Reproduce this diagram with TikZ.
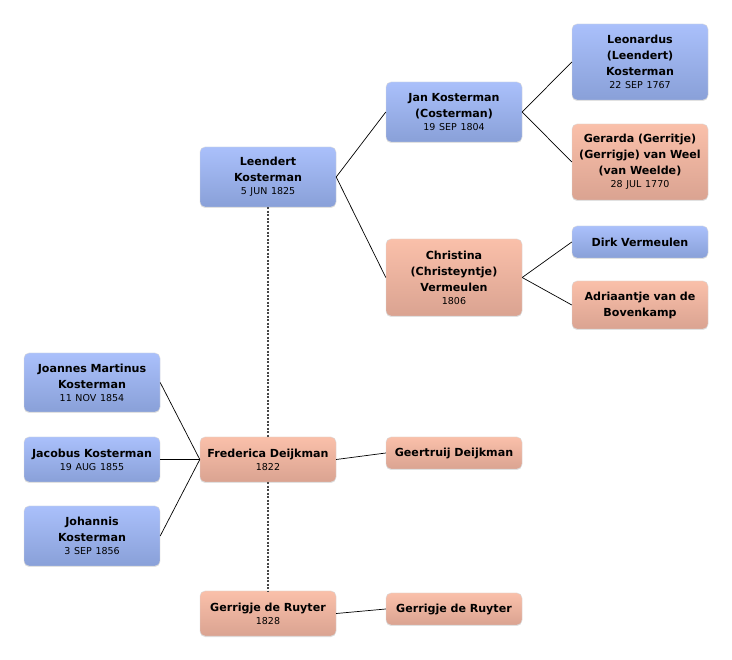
\documentclass[tikz,border=0pt]{standalone}
\usepackage{fontspec}
\setmainfont{DejaVu Sans}
\usetikzlibrary{shadows}
\definecolor{btop}{RGB}{170,192,251}
\definecolor{bbot}{RGB}{137,160,216}
\definecolor{ptop}{RGB}{250,192,170}
\definecolor{pbot}{RGB}{218,163,145}
\definecolor{dotc}{RGB}{70,70,70}
\newcommand{\dt}[1]{\\[-3pt]{\fontsize{9.5}{16}\selectfont\mdseries #1}}
\tikzset{
  person/.style={rounded corners=5pt, minimum width=136pt, text width=134pt,
    align=center, inner sep=0pt, draw=white!85!black, line width=0.4pt,
    font=\fontsize{11.1}{16}\selectfont\bfseries,
    drop shadow={opacity=0.22, shadow xshift=0pt, shadow yshift=-1pt}},
  male/.style={person, top color=btop, bottom color=bbot},
  female/.style={person, top color=ptop, bottom color=pbot},
  link/.style={draw=black, line width=0.7pt},
  spouse/.style={draw=dotc, line width=1.4pt, dash pattern=on 2pt off 1.5pt}
}
\begin{document}
\begin{tikzpicture}[x=1pt,y=-1pt]
\fill[white] (0,0) rectangle (732,660);
\useasboundingbox (0,0) rectangle (732,660);

\node[male, minimum height=60pt] (leendert) at (268,177)
  {Leendert\\Kosterman\dt{5 JUN 1825}};
\node[male, minimum height=60pt] (jan) at (454,112)
  {Jan Kosterman\\(Costerman)\dt{19 SEP 1804}};
\node[female, minimum height=77pt] (christina) at (454,277.5)
  {Christina\\(Christeyntje)\\Vermeulen\dt{1806}};
\node[male, minimum height=76pt] (leonardus) at (640,62)
  {Leonardus\\(Leendert)\\Kosterman\dt{22 SEP 1767}};
\node[female, minimum height=76pt] (gerarda) at (640,162)
  {Gerarda (Gerritje)\\(Gerrigje) van Weel\\(van Weelde)\dt{28 JUL 1770}};
\node[male, minimum height=32pt] (dirk) at (640,242)
  {Dirk Vermeulen};
\node[female, minimum height=48pt] (adriaantje) at (640,305)
  {Adriaantje van de\\Bovenkamp};

\node[male, minimum height=59pt] (joannes) at (92,382.5)
  {Joannes Martinus\\Kosterman\dt{11 NOV 1854}};
\node[male, minimum height=45pt] (jacobus) at (92,459.5)
  {Jacobus Kosterman\dt{19 AUG 1855}};
\node[male, minimum height=60pt] (johannis) at (92,536)
  {Johannis\\Kosterman\dt{3 SEP 1856}};

\node[female, minimum height=45pt] (frederica) at (268,459.5)
  {Frederica Deijkman\dt{1822}};
\node[female, minimum height=32pt] (geertruij) at (454,453)
  {Geertruij Deijkman};
\node[female, minimum height=45pt] (gerrigjeA) at (268,613.5)
  {Gerrigje de Ruyter\dt{1828}};
\node[female, minimum height=32pt] (gerrigjeB) at (454,609)
  {Gerrigje de Ruyter};

\draw[link] (leendert.east) -- (jan.west);
\draw[link] (leendert.east) -- (christina.west);
\draw[link] (jan.east) -- (leonardus.west);
\draw[link] (jan.east) -- (gerarda.west);
\draw[link] (christina.east) -- (dirk.west);
\draw[link] (christina.east) -- (adriaantje.west);
\draw[link] (joannes.east) -- (frederica.west);
\draw[link] (jacobus.east) -- (frederica.west);
\draw[link] (johannis.east) -- (frederica.west);
\draw[link] (frederica.east) -- (geertruij.west);
\draw[link] (gerrigjeA.east) -- (gerrigjeB.west);

\draw[spouse] (leendert.south) -- (frederica.north);
\draw[spouse] (frederica.south) -- (gerrigjeA.north);
\end{tikzpicture}
\end{document}
